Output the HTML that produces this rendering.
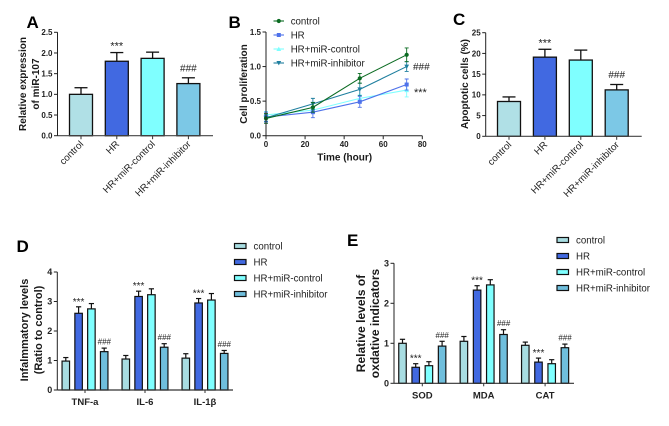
<!DOCTYPE html>
<html>
<head>
<meta charset="utf-8">
<style>
html,body{margin:0;padding:0;background:#fff;}
svg{display:block;font-family:"Liberation Sans",sans-serif;filter:blur(0.3px);}
text{fill:#222;}
.letter{font-size:17px;font-weight:bold;fill:#000;}
.title{font-size:10px;font-weight:bold;text-anchor:middle;fill:#1a1a1a;}
.title-d{font-size:11px;}
.title-e{font-size:12px;}
</style>
</head>
<body>
<svg id="fig" width="669" height="426" viewBox="0 0 669 426" xmlns="http://www.w3.org/2000/svg">
  <rect width="669" height="426" fill="#fff"/>

  <g id="panel-a">
    <text class="letter" x="26.5" y="28">A</text>
    <text class="title" transform="translate(26,84) rotate(-90)">Relative expression</text>
    <text class="title" transform="translate(39,84) rotate(-90)">of miR-107</text>
  </g>

  <g id="panel-b">
    <text class="letter" x="228.5" y="28">B</text>
    <text class="title" transform="translate(247,84) rotate(-90)">Cell proliferation</text>
    <text class="title" x="344.7" y="160.5">Time (hour)</text>
  </g>

  <g id="panel-c">
    <text class="letter" x="453" y="25">C</text>
    <text class="title" transform="translate(468,84) rotate(-90)">Apoptotic cells (%)</text>
  </g>

  <g id="panel-d">
    <text class="letter" x="16.5" y="252">D</text>
    <text class="title title-d" transform="translate(28,330) rotate(-90)">Infalmmatory levels</text>
    <text class="title title-d" transform="translate(42,330) rotate(-90)">(Ratio to control)</text>
  </g>

  <g id="panel-e">
    <text class="letter" x="347" y="246">E</text>
    <text class="title title-e" transform="translate(365,323.5) rotate(-90)">Relative levels of</text>
    <text class="title title-e" transform="translate(379,323.5) rotate(-90)">oxdative indicators</text>
  </g>
</svg>

<script>
// ---- shared labels ----
const seriesNames = ["control", "HR", "HR+miR-control", "HR+miR-inhibitor"];
const barColors = ["#b0e0e6", "#4169e1", "#7fffff", "#7cc8e6"];
const groupBarColors = ["#a8dde2", "#4169e1", "#7fffff", "#6fbedc"];
const lineColors = ["#0b6b22", "#4f72ea", "#7fffff", "#1f7f9f"];

// ---- panel A ----
const aValues = [1.0, 1.8, 1.87, 1.26];
const aErrors = [0.16, 0.21, 0.15, 0.14];
const aMarks = ["", "***", "", "###"];
const aTicks = ["0.0", "0.5", "1.0", "1.5", "2.0", "2.5"];

// ---- panel B ----
const bTimes = [0, 24, 48, 72];
const bControl = [0.25, 0.41, 0.83, 1.17];
const bControlErr = [0.07, 0.07, 0.07, 0.10];
const bHR = [0.27, 0.34, 0.49, 0.74];
const bHRErr = [0.07, 0.08, 0.08, 0.08];
const bMiRControl = [0.30, 0.37, 0.54, 0.66];
const bMiRControlErr = [0.05, 0.05, 0.05, 0.10];
const bInhibitor = [0.26, 0.46, 0.67, 1.0];
const bInhibitorErr = [0.05, 0.08, 0.09, 0.07];
const bYTicks = ["0.0", "0.5", "1.0", "1.5"];
const bXTicks = ["0", "20", "40", "60", "80"];

// ---- panel C ----
const cValues = [8.4, 19.1, 18.4, 11.2];
const cErrors = [1.1, 1.9, 2.4, 1.3];
const cMarks = ["", "***", "", "###"];
const cTicks = ["0", "5", "10", "15", "20", "25"];

// ---- panel D ----
const dGroups = ["TNF-a", "IL-6", "IL-1\u03b2"];
const dTNF = [0.98, 2.6, 2.75, 1.3];
const dTNFErr = [0.12, 0.22, 0.18, 0.12];
const dIL6 = [1.05, 3.17, 3.23, 1.45];
const dIL6Err = [0.12, 0.18, 0.2, 0.12];
const dIL1 = [1.08, 2.95, 3.05, 1.24];
const dIL1Err = [0.15, 0.15, 0.22, 0.1];
const dTicks = ["0", "1", "2", "3", "4"];

// ---- panel E ----
const eGroups = ["SOD", "MDA", "CAT"];
const eSOD = [1.0, 0.4, 0.44, 0.93];
const eSODErr = [0.1, 0.09, 0.1, 0.12];
const eMDA = [1.05, 2.33, 2.46, 1.22];
const eMDAErr = [0.12, 0.11, 0.13, 0.12];
const eCAT = [0.95, 0.53, 0.49, 0.89];
const eCATErr = [0.08, 0.1, 0.1, 0.09];
const eTicks = ["0", "1", "2", "3"];

const groupMarks = ["", "***", "", "###"];

const NS = "http://www.w3.org/2000/svg";
function mk(parent, tag, attrs, txt) {
  const el = document.createElementNS(NS, tag);
  for (const k in attrs) el.setAttribute(k, attrs[k]);
  if (txt !== undefined) el.textContent = txt;
  parent.appendChild(el);
  return el;
}
function linScale(d0, d1, r0, r1) {
  return v => r0 + (v - d0) * (r1 - r0) / (d1 - d0);
}
function slug(s) {
  return String(s).toLowerCase().replace(/[^a-z0-9]+/g, "-");
}

function drawYAxis(g, prefix, x, y, ticks, bottom, top, fs) {
  const ax = mk(g, "line", {x1:x, x2:x, y1:bottom, y2:top, stroke:"#222", "stroke-width":1});
  
  
  ticks.forEach(t => {
    const py = y(parseFloat(t));
    const tk = mk(g, "line", {x1:x-3.5, x2:x, y1:py, y2:py, stroke:"#222", "stroke-width":1});
    
    
    const lb = mk(g, "text", {x:x-5, y:py+fs*0.36, "text-anchor":"end", "font-size":fs, "font-weight":"bold"}, t);
    
    
  });
}

function drawBar(g, prefix, cx, w, value, err, y, fill, sw, capW) {
  const top = y(value), etop = y(value + err), base = y(0);
  const st = mk(g, "line", {x1:cx, x2:cx, y1:top, y2:etop, stroke:"#111", "stroke-width":sw});
  
  
  const cp = mk(g, "line", {x1:cx-capW, x2:cx+capW, y1:etop, y2:etop, stroke:"#111", "stroke-width":sw});
  
  
  const r = mk(g, "rect", {x:cx-w/2, y:top, width:w, height:base-top, fill:fill, stroke:"#111", "stroke-width":sw});
  
  
  return etop;
}

function drawMark(g, prefix, cx, etop, mark, starFs, starOff, hashFs, hashOff, italic) {
  if (!mark) return;
  const isStar = mark === "***";
  const attrs = {x:cx, y:etop - (isStar ? starOff : hashOff), "text-anchor":"middle",
    "font-size":isStar ? starFs : hashFs, fill:"#333"};
  if (!isStar && italic) attrs["font-style"] = "italic";
  const t = mk(g, "text", attrs, mark);
  
  
}

function singleBars(id, prefix, values, errors, marks, ticks, axisX, endX, y0, yTop, dMax, centers0, step) {
  const g = document.getElementById(id);
  const y = linScale(0, dMax, y0, yTop);
  const xBand = i => centers0 + step * i;
  values.forEach((v, i) => {
    const name = prefix + '-' + slug(seriesNames[i]);
    const etop = drawBar(g, name, xBand(i), 23, v, errors[i], y, barColors[i], 1.3, 6.5);
    drawMark(g, name, xBand(i), etop, marks[i], 11, 3, 10, 6.5, false);
    const tk = mk(g, "line", {x1:xBand(i), x2:xBand(i), y1:y0, y2:y0+3.5, stroke:"#333", "stroke-width":1});
    
    
    const lb = mk(g, "text", {transform:"translate(" + (xBand(i)+3) + "," + (y0+9) + ") rotate(-45)",
      "text-anchor":"end", "font-size":9.7, fill:"#333"}, seriesNames[i]);
    
    
  });
  const xa = mk(g, "line", {x1:axisX, x2:endX, y1:y0, y2:y0, stroke:"#444", "stroke-width":1.2});
  
  
  drawYAxis(g, prefix, axisX, y, ticks, y0, yTop, 8);
}

function groupedBars(id, prefix, groups, valuesBy, errorsBy, ticks, axisX, endX, y0, yTop, dMax, group0, groupStep, barStep, legX, legY, legStep) {
  const g = document.getElementById(id);
  const y = linScale(0, dMax, y0, yTop);
  groups.forEach((name, gi) => {
    const gc = group0 + groupStep * gi;
    valuesBy[gi].forEach((v, i) => {
      const cx = gc + (i - 1.5) * barStep;
      const nm = prefix + '-' + slug(name) + '-' + slug(seriesNames[i]);
      const etop = drawBar(g, nm, cx, 7.5, v, errorsBy[gi][i], y, groupBarColors[i], 1.2, 2.6);
      drawMark(g, nm, cx, etop, groupMarks[i], 10, 2, 8, 3.5, true);
    });
    const tk = mk(g, "line", {x1:gc, x2:gc, y1:y0, y2:y0+3, stroke:"#333", "stroke-width":1});
    
    
    const lb = mk(g, "text", {x:gc, y:y0+15, "text-anchor":"middle", "font-size":9.5, "font-weight":"bold"}, name);
    
    
  });
  const xa = mk(g, "line", {x1:axisX, x2:endX, y1:y0, y2:y0, stroke:"#333", "stroke-width":1.2});
  
  
  drawYAxis(g, prefix, axisX, y, ticks, y0, yTop, 9);
  seriesNames.forEach((s, i) => {
    const ly = legY + legStep * i;
    const sw = mk(g, "rect", {x:legX, y:ly-2.5, width:11.5, height:5, fill:groupBarColors[i], stroke:"#111", "stroke-width":1.2});
    
    
    const tx = mk(g, "text", {x:legX+19, y:ly+3.4, "font-size":9.7, fill:"#333"}, s);
    
    
  });
}

function drawMarker(g, shape, cx, cy, color) {
  let m;
  if (shape === 0) m = mk(g, "circle", {cx:cx, cy:cy, r:2.1, fill:color});
  else if (shape === 1) m = mk(g, "rect", {x:cx-2, y:cy-2, width:4, height:4, fill:color});
  else if (shape === 2) m = mk(g, "path", {d:"M"+cx+" "+(cy-2.4)+"l2.4 4.4h-4.8z", fill:color});
  else m = mk(g, "path", {d:"M"+cx+" "+(cy+2.4)+"l2.4 -4.4h-4.8z", fill:color});
  return m;
}

function linePanel() {
  const g = document.getElementById("panel-b");
  const x = linScale(0, 80, 266, 422.3);
  const y = linScale(0, 1.5, 135.7, 32);
  const series = [bMiRControl, bHR, bInhibitor, bControl];
  const errs = [bMiRControlErr, bHRErr, bInhibitorErr, bControlErr];
  const order = [2, 1, 3, 0];
  series.forEach((vals, si) => {
    const idx = order[si];
    const color = lineColors[idx];
    const nm = 'panel-b-' + slug(seriesNames[idx]);
    const pts = vals.map((v, i) => x(bTimes[i]) + "," + y(v)).join(" ");
    const pl = mk(g, "polyline", {points:pts, fill:"none", stroke:color, "stroke-width":1.1});
    
    
    vals.forEach((v, i) => {
      const px = x(bTimes[i]);
      const e = errs[si][i];
      const eb = mk(g, "path", {d:"M"+(px-2)+" "+y(v+e)+"h4M"+px+" "+y(v+e)+"V"+y(v-e)+"M"+(px-2)+" "+y(v-e)+"h4",
        fill:"none", stroke:color, "stroke-width":0.9});
      
      
      const mkr = drawMarker(g, idx, px, y(v), color);
      
      
    });
  });
  bXTicks.forEach(t => {
    const px = x(parseFloat(t));
    const tk = mk(g, "line", {x1:px, x2:px, y1:135.7, y2:139.2, stroke:"#222", "stroke-width":1});
    
    
    const lb = mk(g, "text", {x:px, y:147, "text-anchor":"middle", "font-size":8, "font-weight":"bold"}, t);
    
    
  });
  const xa = mk(g, "line", {x1:266, x2:422.3, y1:135.7, y2:135.7, stroke:"#222", "stroke-width":1});
  
  
  drawYAxis(g, 'panel-b', 266, y, bYTicks, 135.7, 32, 8);

  seriesNames.forEach((s, i) => {
    const ly = 21 + 14 * i;
    const ll = mk(g, "line", {x1:273.5, x2:284, y1:ly, y2:ly, stroke:lineColors[i], "stroke-width":1.1});
    
    
    const mm = drawMarker(g, i, 278.8, ly, lineColors[i]);
    
    
    const tx = mk(g, "text", {x:290.7, y:ly+3.4, "font-size":9.7, fill:"#333"}, s);
    
    
  });
  const hs = mk(g, "text", {x:413, y:70, "font-size":10, fill:"#333"}, "###");
  
  
  const st = mk(g, "text", {x:414, y:96, "font-size":11, fill:"#333"}, "***");
  
  
}

singleBars("panel-a", "panel-a", aValues, aErrors, aMarks, aTicks, 57.5, 213, 135.7, 32.3, 2.5, 81, 35.8);
linePanel();
singleBars("panel-c", "panel-c", cValues, cErrors, cMarks, cTicks, 485.7, 641.7, 136.3, 32.7, 25, 509, 35.9);
groupedBars("panel-d", "panel-d", dGroups, [dTNF, dIL6, dIL1], [dTNFErr, dIL6Err, dIL1Err], dTicks,
  57.3, 233, 390, 272, 4, 85, 60, 12.8, 234.5, 246, 16);
groupedBars("panel-e", "panel-e", eGroups, [eSOD, eMDA, eCAT], [eSODErr, eMDAErr, eCATErr], eTicks,
  394, 574, 383.3, 263.3, 3, 422.3, 61.4, 13.2, 557, 240, 16);
</script>
</body>
</html>
